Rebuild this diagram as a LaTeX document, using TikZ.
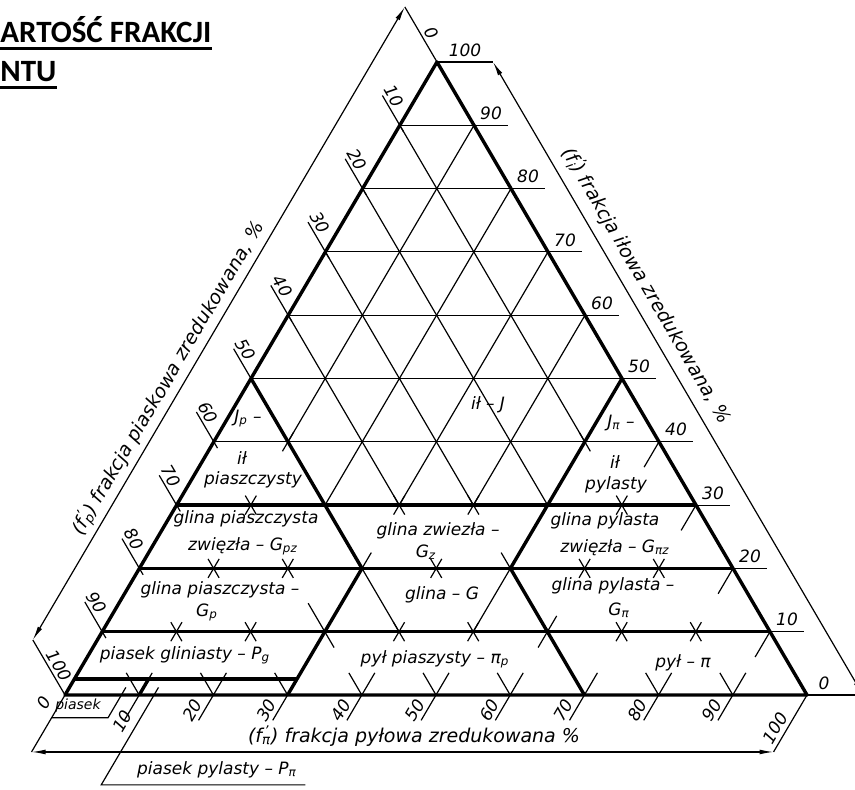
\documentclass[tikz,border=0pt]{standalone}
\usepackage{fontspec}
\setmainfont{DejaVu Sans}[ItalicFont={DejaVu Sans Oblique}]
\newfontfamily\titlefont{Carlito}
\usepackage{tikz}
\usetikzlibrary{arrows.meta}

\newcommand{\fr}[1]{f\makebox[0pt][l]{\textsuperscript{\,\textquoteright}}\textsubscript{#1}}

\tikzset{
    thickline/.style={line width=1.7pt, line join=round},
    thinline/.style={line width=0.6pt},
    dimline/.style={line width=0.6pt, {Latex[length=7pt,width=2.4pt]}-{Latex[length=7pt,width=2.4pt]}},
    ticktext/.style={font=\fontsize{8.5}{10}\selectfont\itshape, inner sep=0pt},
    areatext/.style={font=\fontsize{8.5}{10}\selectfont\itshape, inner sep=0pt},
    axistext/.style={font=\fontsize{9.5}{11}\selectfont\itshape, inner sep=0pt},
    titletext/.style={anchor=base west, inner sep=0pt, font=\titlefont\bfseries\fontsize{15.5}{18}\selectfont},
    tern/.style={shift={(65,695)}, x={(3.71pt,0pt)}, y={(1.86pt,3.165pt)}}
}

\begin{document}
\begin{tikzpicture}[x=0.5pt, y=-0.5pt]
    \useasboundingbox (0,0) rectangle (855,790);
    \clip (0,0) rectangle (855,790);

    \node[titletext] (title1) at (0,43) {ARTOŚĆ FRAKCJI};
    \node[titletext] (title2) at (0,82) {NTU};
    \draw[line width=1.5pt] ([yshift=-2.6pt]title1.base west) -- ([yshift=-2.6pt]title1.base east);
    \draw[line width=1.5pt] ([yshift=-2.6pt]title2.base west) -- ([yshift=-2.6pt]title2.base east);

\begin{scope}[tern]
    \begin{scope}
        \clip (0,100) -- (0,50) -- (20,30) -- (50,30) -- (50,50) -- cycle;
        \foreach \k in {10,20,30,40} {
            \draw[thinline] (\k,0) -- (\k,100-\k);
            \draw[thinline] (0,100-\k) -- (100-\k,0);
        }
    \end{scope}

    \foreach \i in {40,50,...,90}
        \draw[thinline] (0,\i) -- (100-\i,\i);
    \foreach \i in {10,20,...,90}
        \draw[thinline] (100-\i,\i) -- ++(17pt,0pt);
    \foreach \i in {10,20,...,90}
        \draw[thinline] (1,\i-1) -- (-4.7,\i+4.7);
    \foreach \i in {10,20,30,40}
        \draw[thinline] (100-\i,\i) -- (100-\i,\i-4);
    \foreach \p in {10,20,...,90}
        \draw[thinline] (\p,-4) -- (\p,3.5) (\p,0) -- (\p-3.5,3.5);
    \foreach \p/\i in {10/40,50/40,10/30,30/30,40/30,60/30,10/20,20/20,40/20,60/20,70/20,10/10,20/10,40/10,50/10,70/10,80/10}
        \draw[thinline] (\p,\i-1.5) -- (\p,\i+1.5) (\p+1.5,\i-1.5) -- (\p-1.5,\i+1.5);
    \draw[thinline] (30,20) -- (40,10) (50,20) -- (50,10);
    \draw[thinline] (30,20) -- (30,22.5) (50,20) -- (47.5,22.5) (25.5,14.5) -- (32.5,7.5) (60,7.5) -- (60,12.5);

    \draw[thinline] (0,100) -- (-8.7,108.7) (0,0) -- (-8.7,8.7);
    \draw[dimline] (-8.7,8.7) -- (-8.7,108.7);
    \draw[thinline] (0,100) -- (7.55,100) (100,0) -- (107.55,0);
    \draw[dimline] (7.55,100) -- (107.55,0);
    \draw[thinline] (0,0) -- (0,-9) (100,0) -- (100,-9);
    \draw[dimline] (0,-9) -- (100,-9);

    \draw[thinline] (0,-3.6) -- (7.6,-3.6) -- (7.6,1.2);
    \draw[thinline] (39.5,-14.2) -- (12,-14.2) -- (12,1.2);

    \draw[thickline] (0,0) -- (100,0) -- (0,100) -- cycle;
    \foreach \i in {10,20,30}
        \draw[thickline] (0,\i) -- (100-\i,\i);
    \draw[thickline] (0,50) -- (30,20) -- (30,0);
    \draw[thickline] (50,50) -- (50,20) -- (70,0);
    \draw[thickline] (0,2.5) -- (30,2.5);
    \draw[thickline] (10,0) -- (10,2.5);

    \foreach \s in {0,10,...,100}
        \node[ticktext, xshift=-2.75pt, yshift=14.6pt, rotate=-59.7] (ls\s) at (0,100-\s) {\s};
    \foreach \i in {0,10,...,90}
        \node[ticktext, xshift=8.5pt, yshift=6pt] (rs\i) at (100-\i,\i) {\i};
    \node[ticktext, xshift=14pt, yshift=6pt] (rs100) at (0,100) {100};
    \foreach \p in {20,30,...,90}
        \node[ticktext, xshift=-10.5pt, yshift=-7.5pt, rotate=59.5] (bs\p) at (\p,0) {\p};
    \node[ticktext, xshift=-10.5pt, yshift=-4pt, rotate=59.5] (bs0) at (0,0) {0};
    \node[ticktext, xshift=-8.5pt, yshift=-13pt, rotate=59.5] (bs10) at (10,0) {10};
    \node[ticktext, xshift=-16pt, yshift=-16.5pt, rotate=59.5] (bs100) at (100,0) {100};
\end{scope}

    \node[areatext] (ilJ) at (488,405) {ił – J};
    \node[areatext] (jp) at (248,419) {J\textsubscript{p} –};
    \node[areatext] (ilp1) at (242,458) {ił};
    \node[areatext] (ilp2) at (253,480) {piaszczysty};
    \node[areatext] (jpi) at (621,423) {J\textsubscript{π} –};
    \node[areatext] (ilpy1) at (615,462) {ił};
    \node[areatext] (ilpy2) at (616,485) {pylasty};
    \node[areatext] (gpz1) at (246,519) {glina piaszczysta};
    \node[areatext] (gpz2) at (243,546) {zwięzła – G\textsubscript{pz}};
    \node[areatext] (gz1) at (438,531) {glina zwiezła –};
    \node[areatext] (gz2) at (426,552) {G\textsubscript{z}};
    \node[areatext] (gpiz1) at (605,521) {glina pylasta};
    \node[areatext] (gpiz2) at (615,548) {zwięzła – G\textsubscript{πz}};
    \node[areatext] (gp1) at (220,590) {glina piaszczysta –};
    \node[areatext] (gp2) at (207,612) {G\textsubscript{p}};
    \node[areatext] (g) at (442,595) {glina – G};
    \node[areatext] (gpi1) at (613,586) {glina pylasta –};
    \node[areatext] (gpi2) at (619,610) {G\textsubscript{π}};
    \node[areatext] (pg) at (185,655) {piasek gliniasty – P\textsubscript{g}};
    \node[areatext] (pip) at (435,659) {pył piaszysty – π\textsubscript{p}};
    \node[areatext] (pi) at (683,663) {pył – π};
    \node[areatext, font=\fontsize{7}{8}\selectfont\itshape] (ps) at (78,706) {piasek};
    \node[areatext] (ppi) at (217,770) {piasek pylasty – P\textsubscript{π}};

    \node[axistext, rotate=59.5] (axp) at (168,378) {(\fr{p}) frakcja piaskowa zredukowana, \%};
    \node[axistext, rotate=-59.7] (axi) at (647,285) {(\fr{i}) frakcja iłowa zredukowana, \%};
    \node[axistext] (axpi) at (414,736) {(\fr{π}) frakcja pyłowa zredukowana \%};
\end{tikzpicture}
\end{document}
